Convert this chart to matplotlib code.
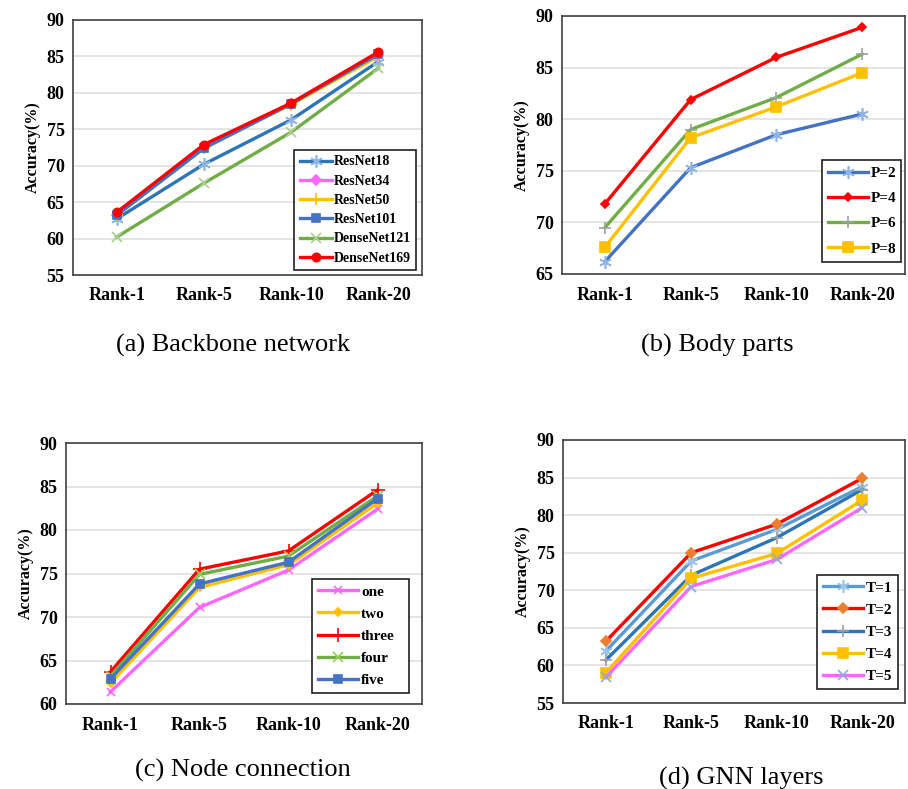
import matplotlib
matplotlib.use("Agg")
import matplotlib.pyplot as plt

plt.rcParams['font.family'] = ['Liberation Serif', 'DejaVu Serif']

W, H = 908, 789
ranks = ['Rank-1', 'Rank-5', 'Rank-10', 'Rank-20']
xs = [0, 1, 2, 3]

# (a) Backbone network
backbone_names = ['ResNet18', 'ResNet34', 'ResNet50', 'ResNet101', 'DenseNet121', 'DenseNet169']
resnet18 = [62.7, 70.2, 76.3, 84.3]
resnet34 = [63.3, 72.5, 78.5, 85.2]
resnet50 = [63.2, 72.4, 78.4, 85.0]
resnet101 = [63.2, 72.4, 78.5, 85.3]
densenet121 = [60.2, 67.6, 74.6, 83.4]
densenet169 = [63.6, 72.9, 78.6, 85.6]

# (b) Body parts
parts_names = ['P=2', 'P=4', 'P=6', 'P=8']
p2 = [66.2, 75.3, 78.5, 80.5]
p4 = [71.8, 81.9, 86.0, 88.9]
p6 = [69.5, 79.0, 82.1, 86.3]
p8 = [67.6, 78.2, 81.2, 84.5]

# (c) Node connection
node_names = ['one', 'two', 'three', 'four', 'five']
n_one = [61.4, 71.1, 75.4, 82.4]
n_two = [62.4, 73.4, 76.0, 83.1]
n_three = [63.7, 75.5, 77.6, 84.6]
n_four = [63.2, 74.9, 77.0, 83.9]
n_five = [62.9, 73.8, 76.3, 83.6]

# (d) GNN layers
gnn_names = ['T=1', 'T=2', 'T=3', 'T=4', 'T=5']
t1 = [61.9, 73.9, 78.1, 83.8]
t2 = [63.2, 75.0, 78.8, 84.9]
t3 = [60.7, 72.0, 77.0, 83.4]
t4 = [59.0, 71.6, 74.9, 82.0]
t5 = [58.4, 70.5, 74.1, 81.0]


def make_ax(fig, left, right, top, bottom):
    return fig.add_axes([left / W, 1 - bottom / H, (right - left) / W, (bottom - top) / H])


def style(ax, ylim, step=5):
    ax.set_xlim(-0.5, 3.5)
    ax.set_ylim(*ylim)
    ax.set_yticks(range(ylim[0], ylim[1] + 1, step))
    ax.set_xticks(xs)
    ax.set_xticklabels(ranks)
    ax.tick_params(length=0, labelsize=13, pad=9)
    for lab in ax.get_xticklabels() + ax.get_yticklabels():
        lab.set_fontweight('bold')
    ax.tick_params(axis='y', pad=6)
    ax.grid(axis='y', color='#e0e0e0', lw=1.2)
    ax.set_axisbelow(True)
    for s in ax.spines.values():
        s.set_color('#404040')
        s.set_linewidth(1.2)
    ax.set_ylabel('Accuracy(%)', fontsize=11.5, fontweight='bold', labelpad=4)


def series(ax, vals, color, marker, mcolor, ms, label, mew=1.2):
    ax.plot(xs, vals, color=color, lw=2.4, marker=marker, ms=ms,
            mfc=mcolor, mec=mcolor, mew=mew, label=label)


def legend(ax, loc_px, fontsize=10.5, handles=None, labels=None, spacing=0.5, hl=2.6):
    # loc_px: (x0, y0, x1, y1) in figure pixels
    x0, y0, x1, y1 = loc_px
    if handles is None:
        handles, labels = ax.get_legend_handles_labels()
    lg = ax.legend(handles, labels, loc='center',
                   bbox_to_anchor=(x0 / W, 1 - y1 / H, (x1 - x0) / W, (y1 - y0) / H),
                   bbox_transform=ax.figure.transFigure, mode='expand', fancybox=False,
                   framealpha=1, edgecolor='#202020', handlelength=hl, handletextpad=0.2,
                   prop={'weight': 'bold', 'size': fontsize}, borderaxespad=0,
                   labelspacing=spacing)
    lg.get_frame().set_linewidth(1.2)
    return lg


fig = plt.figure(figsize=(W / 100, H / 100), dpi=100)

# (a)
ax = make_ax(fig, 73, 422, 20, 275)
style(ax, (55, 90))
series(ax, resnet18, '#2e75b6', (6, 2, 0), '#8fb4e3', 9, backbone_names[0])
series(ax, resnet34, '#ff66ff', 'D', '#ff66ff', 5, backbone_names[1])
series(ax, resnet50, '#ffc000', '+', '#ffc000', 9, backbone_names[2])
series(ax, resnet101, '#4472c4', 's', '#4472c4', 6, backbone_names[3])
series(ax, densenet121, '#70ad47', 'x', '#a9d18e', 7, backbone_names[4])
series(ax, densenet169, '#ff0000', 'o', '#ff0000', 6, backbone_names[5])
legend(ax, (294, 152, 416, 268), fontsize=10, spacing=0.45, hl=2.3)
fig.text(233 / W, 1 - 345 / H, '(a) Backbone network', ha='center', va='center', fontsize=19)

# (b)
ax = make_ax(fig, 562, 905, 16, 274)
style(ax, (65, 90))
series(ax, p2, '#4472c4', (6, 2, 0), '#8fb4e3', 9, parts_names[0])
series(ax, p4, '#ff0000', 'D', '#ff0000', 4, parts_names[1])
series(ax, p6, '#70ad47', '+', '#a0a0a0', 9, parts_names[2])
series(ax, p8, '#ffc000', 's', '#ffc000', 7, parts_names[3])
legend(ax, (822, 158, 901, 264), fontsize=11, spacing=0.75)
fig.text(717 / W, 1 - 345 / H, '(b) Body parts', ha='center', va='center', fontsize=19)

# (c)
ax = make_ax(fig, 66, 422, 443, 704)
style(ax, (60, 90))
series(ax, n_one, '#ff66ff', 'x', '#ff66ff', 6, node_names[0])
series(ax, n_two, '#ffc000', 'D', '#ffc000', 4, node_names[1])
series(ax, n_three, '#ff0000', '+', '#ff0000', 10, node_names[2])
series(ax, n_four, '#70ad47', 'x', '#92d050', 7, node_names[3])
series(ax, n_five, '#4472c4', 's', '#4472c4', 6, node_names[4])
legend(ax, (312, 577, 409, 695), fontsize=11, spacing=0.55)
fig.text(243 / W, 1 - 770 / H, '(c) Node connection', ha='center', va='center', fontsize=19)

# (d)
ax = make_ax(fig, 563, 905, 440, 703)
style(ax, (55, 90))
series(ax, t1, '#5b9bd5', (6, 2, 0), '#9dc3e6', 9, gnn_names[0])
series(ax, t3, '#2e75b6', '+', '#a0a0a0', 9, gnn_names[2])
series(ax, t4, '#ffc000', 's', '#ffc000', 7, gnn_names[3])
series(ax, t5, '#ff66ff', 'x', '#8faadc', 7, gnn_names[4])
series(ax, t2, '#ff0000', 'D', '#ed7d31', 5, gnn_names[1])
h, l = ax.get_legend_handles_labels()
order = [l.index(n) for n in gnn_names]
legend(ax, (817, 573, 898, 691), fontsize=11, spacing=0.55,
       handles=[h[i] for i in order], labels=[l[i] for i in order])
fig.text(741 / W, 1 - 778 / H, '(d) GNN layers', ha='center', va='center', fontsize=19)

fig.savefig('out.png', dpi=100)
